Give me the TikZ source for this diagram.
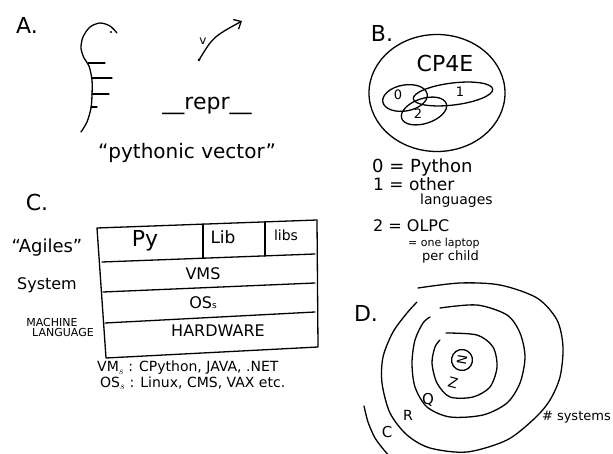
\documentclass[tikz,border=0pt]{standalone}
\usepackage{fontspec}
\setmainfont{DejaVu Sans}
\usetikzlibrary{shapes.geometric, arrows.meta}

\tikzset{
    pen/.style={line width=1.3pt, line cap=round, line join=round},
    hand/.style={inner sep=0pt, font=\fontsize{#1}{#1}\selectfont},
    blob/.style={draw, pen, ellipse, inner sep=0pt}
}

\begin{document}
\begin{tikzpicture}[x=1pt, y=-1pt]
            \useasboundingbox (0,0) rectangle (613,454);
            % A.
            \node[hand=22] (labA) at (27,25) {A.};
            \draw[pen] plot[smooth] coordinates {(117,33) (110,26) (100,23) (90,27) (83,37) (81,48) (84,58) (89,66) (92,80) (92,95) (91,108) (87,122) (81,132)};
            \fill (111,32) circle (1.1pt);
            \foreach \xa/\y/\xb in {88/63/105, 92/78/112, 92/94/109, 91/107/97}
                \draw[pen] (\xa,\y) -- (\xb,\y);
            \coordinate (vtail) at (199,60);
            \coordinate (vhead) at (242,21);
            \fill (vtail) circle (1.5pt);
            \draw[pen, -{Straight Barb[length=6pt, width=11pt]}] (vtail) .. controls (213,37) .. (vhead);
            \node[hand=12] (vlab) at (203,41) {v};
            \node[hand=22] (repr) at (207,106) {\_\_repr\_\_};
            \node[hand=20] (pyvec) at (187,153) {“pythonic vector”};
            % B.
            \node[hand=22] (labB) at (382,33) {B.};
            \node[blob, minimum width=136pt, minimum height=117pt] (cpfe) at (437,93) {};
            \node[hand=22] (cpfelab) at (445,63) {CP4E};
            \node[blob, minimum width=45pt, minimum height=26pt, rotate=10] (set0) at (405,98) {};
            \node[blob, minimum width=80pt, minimum height=22pt, rotate=7] (set1) at (453,94) {};
            \node[blob, minimum width=47pt, minimum height=25pt, rotate=18] (set2) at (424,111) {};
            \node[hand=13] (lab0) at (398,95) {0};
            \node[hand=13] (lab1) at (460,92) {1};
            \node[hand=13] (lab2) at (418,114) {2};
            \node[hand=18, anchor=west] (key0) at (372,168) {0 = Python};
            \node[hand=17, anchor=west] (key1) at (373,184) {1 = other};
            \node[hand=14, anchor=west] (key1b) at (420,201) {languages};
            \node[hand=16, anchor=west] (key2) at (373,226) {2 = OLPC};
            \node[hand=11, anchor=west] (key2b) at (408,243) {= one laptop};
            \node[hand=13, anchor=west] (key2c) at (422,257) {per child};
            % C.
            \node[hand=22] (labC) at (37,202) {C.};
            \draw[pen] (97,228) -- (317,220) -- (318,347) -- (106,358) -- cycle;
            \draw[pen] (102,262) -- (315,254);
            \draw[pen] (103,292) -- (315,283);
            \draw[pen] (105,323) -- (315,312);
            \draw[pen] (203,224) -- (203,258);
            \draw[pen] (265,222) -- (265,256);
            \node[hand=22] (py) at (145,241) {Py};
            \node[hand=17] (lib) at (223,237) {Lib};
            \node[hand=14] (libs) at (286,235) {libs};
            \node[hand=16] (vms) at (203,274) {VMS};
            \node[hand=16] (oss) at (203,303) {OS{\small s}};
            \node[hand=16] (hw) at (218,331) {HARDWARE};
            \node[hand=18] (agiles) at (47,248) {“Agiles”};
            \node[hand=16] (system) at (47,285) {System};
            \node[hand=11] (machine) at (52,322) {MACHINE};
            \node[hand=11] (language) at (63,332) {LANGUAGE};
            \node[hand=14, anchor=west] (vmlist) at (97,368) {VM$_s$ : CPython, JAVA, .NET};
            \node[hand=14, anchor=west] (oslist) at (100,383) {OS$_s$ : Linux, CMS, VAX etc.};
            % D.
            \node[hand=22] (labD) at (366,313) {D.};
            \draw[pen] plot[smooth] coordinates {(418,288) (460,283) (500,285) (537,298) (557,320) (563,347) (560,377) (550,400) (535,418) (507,440) (467,452) (430,448) (407,435) (390,413) (382,383) (383,357) (393,332) (407,313) (417,302)};
            \draw[pen] plot[smooth] coordinates {(440,308) (477,305) (507,315) (520,333) (525,357) (520,383) (507,403) (483,415) (450,417) (427,407) (415,387) (412,363) (415,340) (423,323) (430,317)};
            \draw[pen] plot[smooth] coordinates {(446,333) (477,335) (493,347) (497,367) (490,387) (473,397) (450,397) (437,383) (432,363) (435,347) (440,340)};
            \draw[pen] plot[smooth] coordinates {(364,406) (368,422) (375,438) (384,450) (391,458)};
            \node[blob, circle, minimum size=21pt, hand=13, rotate=80] (nring) at (462,360) {N};
            \node[hand=14, rotate=-15] (zlab) at (453,383) {Z};
            \node[hand=15] (qlab) at (428,400) {Q};
            \node[hand=14] (rlab) at (408,415) {R};
            \node[hand=15] (clab) at (387,432) {C};
            \node[hand=13, anchor=east] (sys) at (611,417) {\# systems};
\end{tikzpicture}
\end{document}
